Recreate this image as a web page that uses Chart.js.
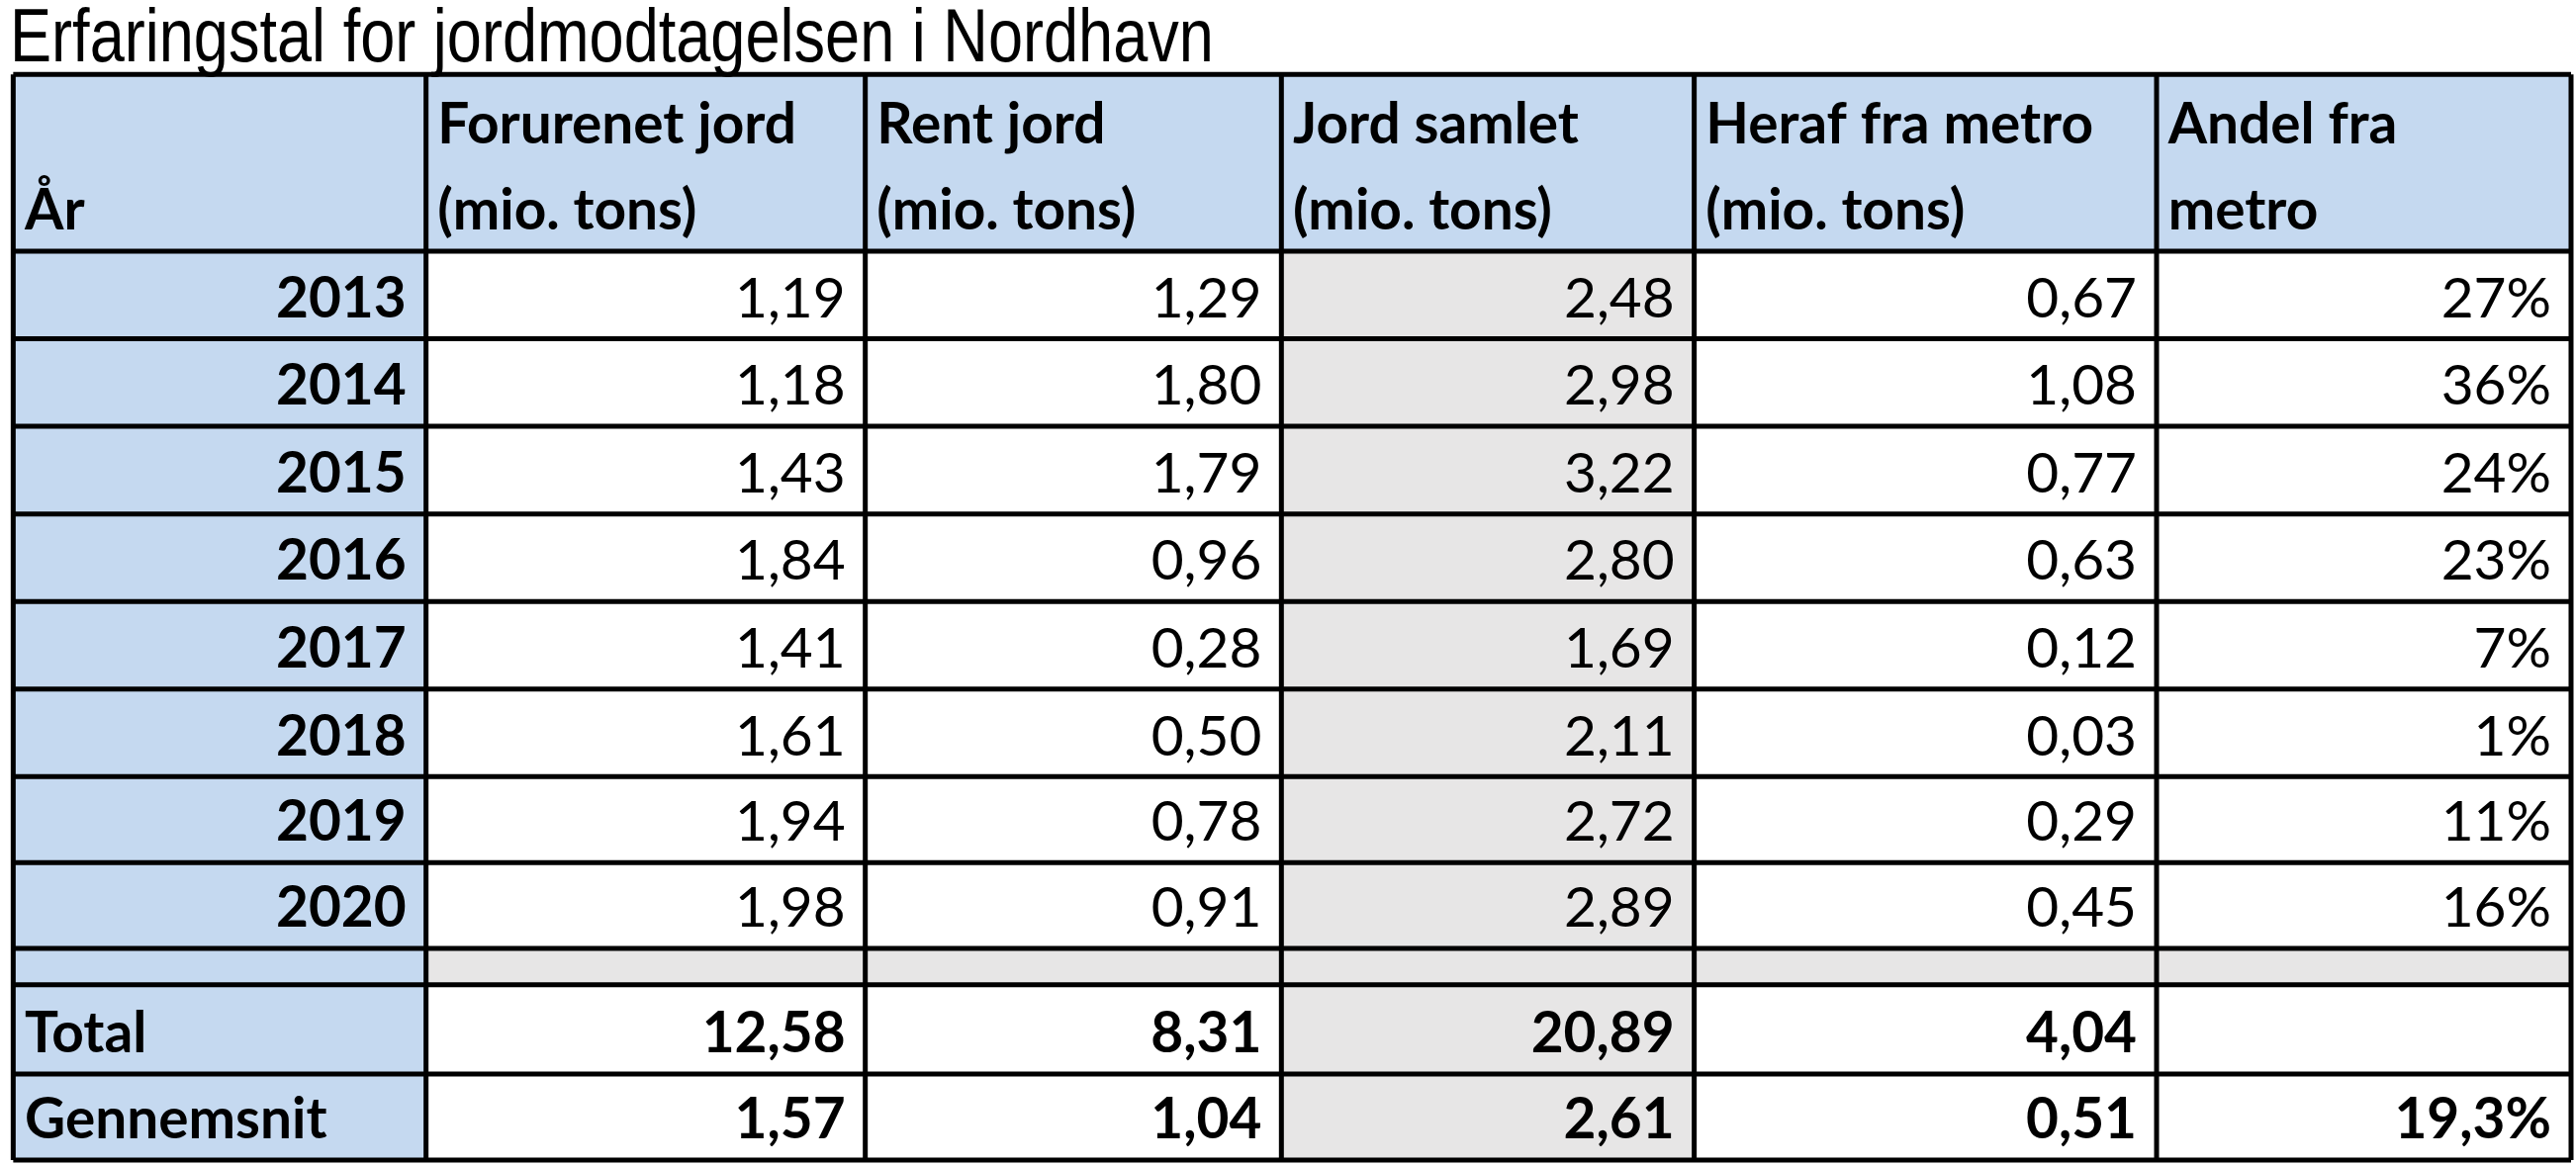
<!DOCTYPE html>
<html><head><meta charset="utf-8">
<script src="https://cdn.jsdelivr.net/npm/chart.js@4"></script>
<style>html,body{margin:0;background:#fff}#wrap{width:2604px;height:1178px}</style>
</head><body><div id="wrap"><canvas id="c"></canvas></div>
<script>
const title = 'Erfaringstal for jordmodtagelsen i Nordhavn';
const headers = [['', 'År'], ['Forurenet jord', '(mio. tons)'], ['Rent jord', '(mio. tons)'], ['Jord samlet', '(mio. tons)'], ['Heraf fra metro', '(mio. tons)'], ['Andel fra', 'metro']];
const years = ['2013', '2014', '2015', '2016', '2017', '2018', '2019', '2020'];
const forurenet = ['1,19', '1,18', '1,43', '1,84', '1,41', '1,61', '1,94', '1,98'];
const rent = ['1,29', '1,80', '1,79', '0,96', '0,28', '0,50', '0,78', '0,91'];
const samlet = ['2,48', '2,98', '3,22', '2,80', '1,69', '2,11', '2,72', '2,89'];
const metro = ['0,67', '1,08', '0,77', '0,63', '0,12', '0,03', '0,29', '0,45'];
const andel = ['27%', '36%', '24%', '23%', '7%', '1%', '11%', '16%'];
const totalRow = ['Total', '12,58', '8,31', '20,89', '4,04', ''];
const avgRow = ['Gennemsnit', '1,57', '1,04', '2,61', '0,51', '19,3%'];

// layout grid in reference units
const colEdges = [8, 258, 524, 776, 1026, 1306, 1557];
const rowEdges = [45, 152, 205, 258, 311, 364, 417, 470, 522, 574, 596, 650, 702];
const BLUE = '#c5d9f0', GREY = '#e7e6e6';

const tablePlugin = {
  id: 'table',
  afterDraw(chart) {
    const c = chart.ctx, x = chart.scales.x, y = chart.scales.y;
    const px = v => x.getPixelForValue(v), py = v => y.getPixelForValue(v);
    const k = (px(1560) - px(0)) / 1560;
    const font = (w, s) => `${w} ${s * k}px Lato, "Open Sans", sans-serif`;
    const body = years.map((yr, i) => [yr, forurenet[i], rent[i], samlet[i], metro[i], andel[i]]);
    const rows = [null, ...body, 'blank', totalRow, avgRow];
    c.save();
    // fills
    rows.forEach((r, ri) => {
      for (let ci = 0; ci < 6; ci++) {
        let f = '#fff';
        if (ri === 0 || ci === 0) f = BLUE;
        else if (r === 'blank' || ci === 3) f = GREY;
        c.fillStyle = f;
        c.fillRect(px(colEdges[ci]), py(rowEdges[ri]), px(colEdges[ci + 1]) - px(colEdges[ci]), py(rowEdges[ri + 1]) - py(rowEdges[ri]));
      }
    });
    // borders
    c.strokeStyle = '#000'; c.lineWidth = 3 * k;
    rowEdges.forEach(v => { c.beginPath(); c.moveTo(px(colEdges[0]), py(v)); c.lineTo(px(colEdges[6]), py(v)); c.stroke(); });
    colEdges.forEach(v => { c.beginPath(); c.moveTo(px(v), py(rowEdges[0])); c.lineTo(px(v), py(rowEdges[rowEdges.length - 1])); c.stroke(); });
    // title
    c.fillStyle = '#000'; c.textBaseline = 'alphabetic';
    c.save();
    c.translate(px(6), py(37));
    c.scale(0.84, 1);
    c.font = `${45 * k}px "Liberation Sans", Arial, sans-serif`;
    c.textAlign = 'left';
    c.fillText(title, 0, 0);
    c.restore();
    // header
    c.font = font('bold', 34);
    headers.forEach((h, ci) => {
      c.textAlign = 'left';
      c.fillText(h[0], px(colEdges[ci] + 7), py(87));
      c.fillText(h[1], px(colEdges[ci] + 7), py(139));
    });
    // cells
    rows.forEach((r, ri) => {
      if (!r || r === 'blank') return;
      const base = py(rowEdges[ri + 1] - 13);
      r.forEach((t, ci) => {
        const bold = ci === 0 || ri > 9;
        c.font = font(bold ? 'bold' : 'normal', 34);
        if (ci === 0 && ri > 9) { c.textAlign = 'left'; c.fillText(t, px(colEdges[0] + 7), base); }
        else { c.textAlign = 'right'; c.fillText(t, px(colEdges[ci + 1] - 12), base); }
      });
    });
    c.restore();
  }
};

new Chart(document.getElementById('c'), {
  type: 'scatter',
  data: { datasets: [{ data: [] }] },
  options: {
    responsive: true, maintainAspectRatio: false, animation: false,
    layout: { padding: 0 },
    plugins: { legend: { display: false }, tooltip: { enabled: false } },
    scales: {
      x: { type: 'linear', min: 0, max: 1560, display: false },
      y: { type: 'linear', min: 0, max: 705, reverse: true, display: false }
    }
  },
  plugins: [tablePlugin]
});
</script></body></html>
